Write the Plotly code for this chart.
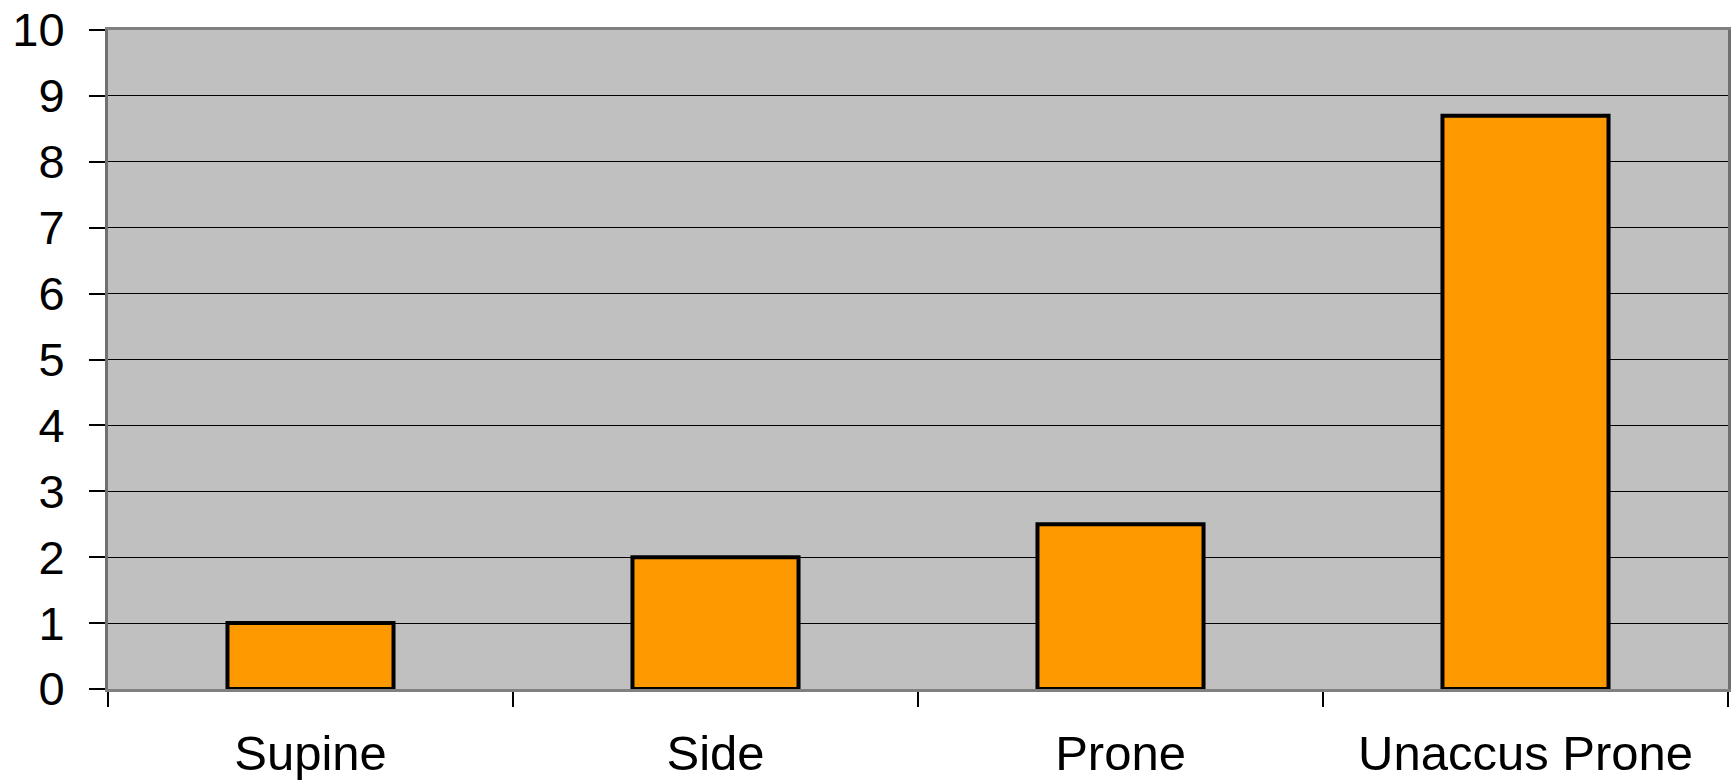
import plotly.graph_objects as go

categories = ["Supine", "Side", "Prone", "Unaccus Prone"]
values = [1, 2, 2.5, 8.7]
y_ticks = list(range(0, 11))

FONT = "Liberation Sans, Arial, sans-serif"

fig = go.Figure(
    go.Bar(
        x=categories,
        y=values,
        marker=dict(color="#FF9900", line=dict(color="#000000", width=4)),
        hoverinfo="x+y",
    )
)

fig.update_layout(
    width=1732,
    height=782,
    margin=dict(l=108, r=4, t=30, b=93),
    paper_bgcolor="#FFFFFF",
    plot_bgcolor="#C0C0C0",
    bargap=0.59,
    showlegend=False,
    font=dict(family=FONT, color="#000000", size=49),
)

fig.update_xaxes(
    type="category",
    automargin=False,
    tickson="boundaries",
    ticks="outside",
    ticklen=15,
    tickwidth=2,
    tickcolor="#000000",
    showgrid=False,
    showline=True,
    linecolor="#808080",
    linewidth=3,
    mirror=True,
    tickfont=dict(family=FONT, size=49, color="#000000"),
    ticklabelstandoff=19,
)

fig.update_yaxes(
    range=[0, 10],
    automargin=False,
    tickvals=y_ticks,
    ticks="outside",
    ticklen=16,
    tickwidth=2,
    tickcolor="#000000",
    showgrid=True,
    gridcolor="#000000",
    gridwidth=1,
    showline=True,
    linecolor="#707070",
    linewidth=3,
    mirror=True,
    zeroline=False,
    tickfont=dict(family=FONT, size=47, color="#000000"),
    ticklabelstandoff=15,
)

fig.write_html("out.html")
